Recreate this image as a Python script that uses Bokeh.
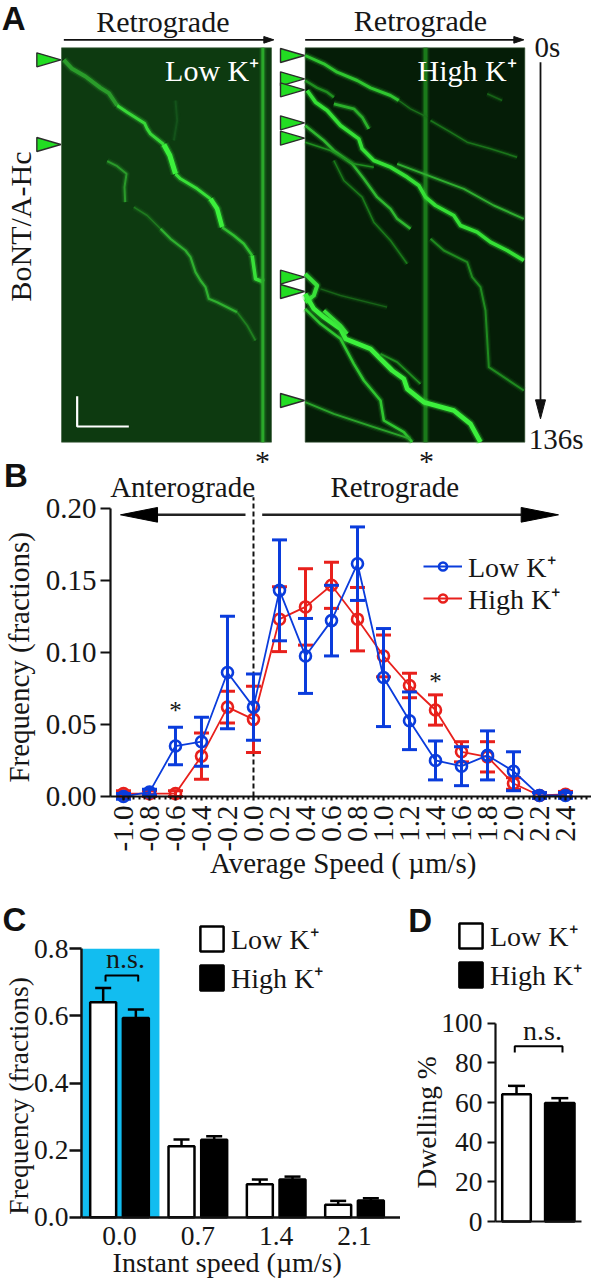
from math import pi
from bokeh.plotting import figure
from bokeh.layouts import column, row
from bokeh.models import (Range1d, LinearAxis, FixedTicker, Label, Legend, LegendItem,
                          NumeralTickFormatter)
from bokeh.embed import file_html
from bokeh.resources import INLINE

SERIF = "Liberation Serif"
INK = "#161616"

# ---------- Panel A data: kymograph traces (position, frame) ----------
low_traces = [
    ([190,215,255,300,325,350], [178,205,228,262,278,315], 4, "#2a9c2a"),
    ([350,380,432,440,450,490], [315,335,368,385,400,432], 3, "#38d838"),
    ([490,508,525], [432,465,520], 5, "#3cf03c"),
    ([525,540,590,630], [520,535,565,595], 3, "#38e038"),
    ([630,650,665], [595,625,680], 4.5, "#3cf03c"),
    ([665,700,730,755], [680,705,730,765], 2.5, "#30c030"),
    ([755,765,790], [765,835,845], 3.5, "#38e038"),
    ([320,350,378,372,374], [482,497,520,560,605], 2, "#2a9a2a"),
    ([400,440,480], [620,645,685], 1.5, "#1f7a1f"),
    ([480,510,555,570,585,600,615,625,650,710], [685,715,750,770,815,840,860,895,905,935], 2.2, "#2fb02f"),
    ([710,740,765], [935,975,1020], 1.8, "#1f7f1f"),
    ([525,530,520], [300,360,420], 2, "#14521a"),
    ([787,787], [142,1325], 3, "#2aa82a"),
]
high_traces = [
    ([405,405], [142,1325], 4, "#1a7a1a"),
    ([44,100,140,200,240,300,325], [165,190,215,240,262,285,300], 3, "#2fc62f"),
    ([325,360,410], [300,325,350], 1.5, "#1a6f1a"),
    ([44,80,110,130], [240,262,275,290], 2.5, "#1f8f1f"),
    ([50,75,110,150,205,215,250,300,350,385,405,435,490,510,560,600,650,700],
     [270,305,330,375,415,445,480,500,530,555,590,615,645,675,695,725,750,780], 3.6, "#35e035"),
    ([130,190,215,235], [310,325,350,385], 2.8, "#2ab02a"),
    ([44,100,130,185,220,260,300,320,360], [375,420,450,490,535,590,625,655,685], 2.5, "#2fb82f"),
    ([44,120,190,250], [425,450,490,500], 1.6, "#1f8f1f"),
    ([320,400,520,610,700], [490,520,565,615,655], 2, "#2fae2f"),
    ([130,160,215,250,300,350], [480,540,590,665,720,790], 1.6, "#1a7a1a"),
    ([420,480,530,600,680], [360,395,425,445,470], 1.6, "#1a741a"),
    ([420,460,530,545,570,585,595,700], [715,750,785,830,860,930,1100,1170], 2, "#1f8a1f"),
    ([44,80,70,44], [820,855,885,905], 4, "#38e038"),
    ([44,70,100,150,165,240,305,340,350,400,490,540,570],
     [880,925,950,985,1015,1045,1110,1135,1165,1205,1230,1270,1325], 4.6, "#3cf03c"),
    ([44,90,150,190,220,270,280,340,365], [925,970,1015,1090,1140,1200,1260,1295,1325], 2.6, "#2fc62f"),
    ([100,150,170], [930,975,1000], 3.5, "#38e038"),
    ([270,320,390], [1060,1085,1150], 1.8, "#1f8f1f"),
    ([44,130,250,360], [1205,1240,1280,1315], 2, "#2aa42a"),
    ([90,150,290], [865,885,920], 1.4, "#176417"),
    ([590,635], [280,300], 1.6, "#176417"),
]
low_marks = [178, 432]
high_marks = [165, 235, 268, 367, 413, 830, 873, 1200]

# ---------- Panel B data ----------
speed = [-1.0,-0.8,-0.6,-0.4,-0.2,0.0,0.2,0.4,0.6,0.8,1.0,1.2,1.4,1.6,1.8,2.0,2.2,2.4]
speed_ticks = speed
speed_dots = [-1.0,-0.96,-0.92,-0.88,-0.84,-0.76,-0.72,-0.68,-0.64,-0.56,-0.52,-0.48,-0.44,-0.36,-0.32,-0.28,-0.24,
              -0.16,-0.12,-0.08,-0.04,0.04,0.08,0.12,0.16,0.24,0.28,0.32,0.36,0.44,0.48,0.52,0.56,0.64,0.68,0.72,0.76,
              0.84,0.88,0.92,0.96,1.04,1.08,1.12,1.16,1.24,1.28,1.32,1.36,1.44,1.48,1.52,1.56,1.64,1.68,1.72,1.76,
              1.84,1.88,1.92,1.96,2.04,2.08,2.12,2.16,2.24,2.28,2.32,2.36,2.44,2.48,2.52,2.56]
low_freq = [0.0,0.003,0.035,0.038,0.086,0.062,0.143,0.0975,0.122,0.1615,0.0825,0.0525,0.025,0.021,0.0285,0.0175,0.0007,0.0007]
low_err  = [0.002,0.002,0.013,0.017,0.039,0.023,0.035,0.026,0.0245,0.0255,0.034,0.020,0.0135,0.0135,0.017,0.0135,0.002,0.002]
high_freq = [0.002,0.002,0.002,0.028,0.062,0.0535,0.123,0.1315,0.1465,0.123,0.0975,0.077,0.060,0.031,0.0275,0.009,0.0007,0.0015]
high_err  = [0.002,0.002,0.002,0.016,0.011,0.023,0.0225,0.0265,0.016,0.022,0.0145,0.0085,0.0105,0.007,0.0105,0.004,0.002,0.002]

# ---------- Panel C data ----------
instant = [0.0, 0.7, 1.4, 2.1]
c_low = [0.641, 0.2117, 0.0984, 0.0368]
c_low_top = [0.683, 0.2315, 0.1123, 0.0487]
c_high = [0.594, 0.2305, 0.1123, 0.0497]
c_high_top = [0.619, 0.2415, 0.121, 0.0566]

# ---------- Panel D data ----------
d_pos = [0, 1]
d_val = [64.2, 59.7]
d_top = [68.4, 62.2]


def txt(p, x, y, s, size, angle=0, align="center", baseline="middle", color=INK, font=SERIF, style="normal"):
    p.add_layout(Label(x=x, y=y, text=s, text_font_size=f"{size}px", angle=angle, text_align=align,
                       text_baseline=baseline, text_color=color, text_font=font, text_font_style=style))


def base_fig(w, h, xr, yr, **kw):
    return figure(width=w, height=h, x_range=Range1d(*xr), y_range=Range1d(*yr), x_axis_type=None, y_axis_type=None,
                  toolbar_location=None, output_backend="svg", min_border=0, outline_line_color=None, **kw)


def style_axis(ax, size, lw=2.2):
    ax.axis_line_width = lw
    ax.axis_line_color = "#111111"
    ax.major_tick_line_color = "#111111"
    ax.major_tick_line_width = lw
    ax.major_tick_in = 0
    ax.minor_tick_in = 0
    ax.minor_tick_out = 0
    ax.major_label_text_font = SERIF
    ax.major_label_text_font_size = f"{size}px"
    ax.major_label_text_color = INK


def legend_item(p, label, rend, x, y, gw, gh, standoff, size):
    p.add_layout(Legend(items=[LegendItem(label=label, renderers=rend)], location=(x, y), padding=0, margin=0,
                        glyph_width=gw, glyph_height=gh, label_standoff=standoff, background_fill_alpha=0,
                        border_line_color=None, label_text_font=SERIF, label_text_font_size=f"{size}px",
                        label_text_color=INK, label_height=20))


def kymo(w, xr, bg, x0, x1, traces):
    p = base_fig(w, 460, xr, (1380, 0))
    p.quad(left=[x0], right=[x1], top=[142], bottom=[1325], fill_color=bg, line_color="#3a5a3a", line_width=0.6)
    for t in traces:
        p.line(t[0], t[1], line_width=t[2] + 5, line_color=t[3], line_alpha=0.12, line_join="round")
        p.line(t[0], t[1], line_width=t[2] + 2.5, line_color=t[3], line_alpha=0.25, line_join="round")
        p.line(t[0], t[1], line_width=t[2], line_color=t[3], line_join="round")
    return p


def tri_marks(p, tips, x_tip):
    xs = [[x_tip, x_tip - 72, x_tip - 72] for _ in tips]
    ys = [[t, t - 21, t + 21] for t in tips]
    p.patches(xs, ys, fill_color="#22dd22", line_color="#2c2c2c", line_width=1.4)


# ---------- Panel A ----------
a1 = kymo(275, (0, 825), "#0d3a10", 183, 813, low_traces)
tri_marks(a1, low_marks, 181)
a1.line([230, 230, 385], [1187, 1278, 1278], line_color="white", line_width=2.2)
a1.line([190, 795], [118, 118], line_color="#111111", line_width=1.6)
a1.patch([820, 790, 790], [118, 108, 128], fill_color="#111111", line_color="#111111")
txt(a1, 4, 55, "A", 33, align="left", font="Liberation Sans", style="bold", color="#111111")
txt(a1, 487, 62, "Retrograde", 30)
txt(a1, 635, 210, "Low K⁺", 30, color="white")
txt(a1, 60, 678, "BoNT/A-Hc", 30, angle=pi / 2)

a2 = kymo(316, (-45, 903), "#051d07", 44, 703, high_traces)
tri_marks(a2, high_marks, 42)
a2.line([44, 675], [118, 118], line_color="#111111", line_width=1.6)
a2.patch([700, 670, 670], [118, 108, 128], fill_color="#111111", line_color="#111111")
a2.line([750, 750], [185, 1210], line_color="#111111", line_width=1.8)
a2.patch([750, 735, 765], [1255, 1198, 1198], fill_color="#111111", line_color="#111111")
txt(a2, 390, 60, "Retrograde", 30)
txt(a2, 530, 210, "High K⁺", 30, color="white")
txt(a2, 732, 138, "0s", 29, align="left")
txt(a2, 715, 1315, "136s", 29, align="left")

# ---------- Panel B ----------
b = base_fig(591, 455, (-1.946, 2.6), (-0.0687, 0.24696), background_fill_alpha=0, border_fill_alpha=0, margin=(-20, 0, 0, 0))
bx = LinearAxis(fixed_location=0.0, bounds=(-1.1, 2.6), ticker=FixedTicker(ticks=speed_ticks, minor_ticks=speed_dots),
                formatter=NumeralTickFormatter(format="0.0"))
style_axis(bx, 29)
bx.major_tick_out = 4
bx.minor_tick_out = 3
bx.minor_tick_line_width = 2
bx.minor_tick_line_color = "#111111"
bx.major_label_orientation = pi / 2
bx.major_label_standoff = 5
b.add_layout(bx, "below")
by = LinearAxis(fixed_location=-1.1, bounds=(0, 0.2), ticker=FixedTicker(ticks=[0, 0.05, 0.1, 0.15, 0.2]),
                formatter=NumeralTickFormatter(format="0.00"))
style_axis(by, 29)
by.major_tick_out = 10
by.major_label_standoff = 4
b.add_layout(by, "left")

b.line([0, 0], [0, 0.2076], line_color="#111111", line_width=2, line_dash="5 3")
b.segment([-0.0615, 0.067], [0.1954, 0.1954], [-0.74, 2.06], [0.1954, 0.1954], line_color="#222222", line_width=2.4)
b.patches([[-1.023, -0.738, -0.738], [2.346, 2.059, 2.059]],
          [[0.1954, 0.2005, 0.1903], [0.1954, 0.2005, 0.1903]], fill_color="#000000", line_color="#000000")


def series(p, y, e, color):
    lo = [a - c for a, c in zip(y, e)]
    hi = [a + c for a, c in zip(y, e)]
    p.segment(speed, lo, speed, hi, line_color=color, line_width=3)
    p.scatter(speed + speed, lo + hi, marker="dash", size=15, line_color=color, line_width=3)
    ln = p.line(speed, y, line_color=color, line_width=1.8)
    sc = p.scatter(speed, y, marker="circle", size=11, fill_color=None, line_color=color, line_width=2.6)
    return [ln, sc]


r_high = series(b, high_freq, high_err, "#e8201c")
r_low = series(b, low_freq, low_err, "#0a3cdc")
legend_item(b, "Low K⁺", r_low, 423, 310, 39, 20, 6, 28)
legend_item(b, "High K⁺", r_high, 423, 278, 39, 20, 6, 28)
txt(b, 0.069, 0.2442, "*", 30, baseline="top")
txt(b, 1.331, 0.2442, "*", 30, baseline="top")
txt(b, -0.545, 0.2150, "Anterograde", 29)
txt(b, 1.087, 0.2150, "Retrograde", 29)
txt(b, -0.6, 0.0597, "*", 25)
txt(b, 1.4, 0.0798, "*", 25)
txt(b, 0.69, -0.046, "Average Speed ( µm/s)", 29)
txt(b, -1.80, 0.0965, "Frequency (fractions)", 29, angle=pi / 2)
txt(b, -1.92, 0.2225, "B", 33, align="left", font="Liberation Sans", style="bold", color="#111111")

# ---------- Panel C ----------
c = base_fig(400, 385, (-1.0635, 2.511), (-0.1886, 0.9588))
c.quad(left=[-0.333], right=[0.357], bottom=[0], top=[0.8], fill_color="#12bdf0", line_color=None)
offs = 0.146
x_low = [v - offs for v in instant]
x_high = [v + offs for v in instant]
for xv, yv, top in ((x_low, c_low, c_low_top), (x_high, c_high, c_high_top)):
    c.segment(xv, yv, xv, top, line_color="black", line_width=2.5)
    c.scatter(xv, top, marker="dash", size=16, line_color="black", line_width=2.5)
r_cl = c.vbar(x_low, 0.232, c_low, 0, fill_color="white", line_color="black", line_width=2.5)
r_ch = c.vbar(x_high, 0.232, c_high, 0, fill_color="black", line_color="black", line_width=2.5)
cx = LinearAxis(fixed_location=0.0, bounds=(-0.34, 2.511), ticker=FixedTicker(ticks=instant),
                formatter=NumeralTickFormatter(format="0.0"))
style_axis(cx, 27.5, 2.5)
cx.major_tick_out = 0
cx.major_label_standoff = 10
c.add_layout(cx, "below")
cy = LinearAxis(fixed_location=-0.34, bounds=(0, 0.8), ticker=FixedTicker(ticks=[0, 0.2, 0.4, 0.6, 0.8]),
                formatter=NumeralTickFormatter(format="0.0"))
style_axis(cy, 27.5, 2.5)
cy.major_tick_out = 12
cy.major_label_standoff = 1
c.add_layout(cy, "left")
c.line([-0.125, -0.125, 0.167, 0.167], [0.7025, 0.7204, 0.7204, 0.7025], line_color="black", line_width=2)
txt(c, 0.054, 0.77, "n.s.", 28)
legend_item(c, "Low K⁺", [r_cl], 197, 323, 29, 31, 5, 28)
legend_item(c, "High K⁺", [r_ch], 197, 284, 29, 31, 5, 28)
txt(c, 0.9625, -0.136, "Instant speed (µm/s)", 28)
txt(c, -0.905, 0.3615, "Frequency (fractions)", 27.5, angle=pi / 2)
txt(c, -1.045, 0.888, "C", 33, align="left", font="Liberation Sans", style="bold", color="#111111")

# ---------- Panel D ----------
d = base_fig(191, 385, (-2.679, 1.732), (-29.75, 164.4))
for xv, top in zip(d_pos, d_top):
    d.segment([xv], [0], [xv], [top], line_color="black", line_width=2.5)
    d.scatter([xv], [top], marker="dash", size=17, line_color="black", line_width=2.5)
r_dl = d.vbar(x=[d_pos[0]], width=0.66, top=[d_val[0]], bottom=0, fill_color="white", line_color="black", line_width=2.5)
r_dh = d.vbar(x=[d_pos[1]], width=0.68, top=[d_val[1]], bottom=0, fill_color="black", line_color="black", line_width=2.5)
dx = LinearAxis(fixed_location=0.0, bounds=(-0.485, 1.501), ticker=FixedTicker(ticks=[]))
style_axis(dx, 27, 2.2)
d.add_layout(dx, "below")
dy = LinearAxis(fixed_location=-0.485, bounds=(0, 100), ticker=FixedTicker(ticks=[0, 20, 40, 60, 80, 100]))
style_axis(dy, 27.5, 2.2)
dy.major_tick_out = 8
dy.major_label_standoff = 5
d.add_layout(dy, "left")
d.line([-0.04, -0.04, 1.062, 1.062], [85.2, 88.4, 88.4, 85.2], line_color="black", line_width=2)
txt(d, 0.6, 96.5, "n.s.", 28)
legend_item(d, "Low K⁺", [r_dl], 56, 326, 29, 31, 5, 28)
legend_item(d, "High K⁺", [r_dh], 56, 287, 29, 31, 5, 28)
txt(d, -2.07, 50, "Dwelling %", 27.5, angle=pi / 2)
txt(d, -2.5, 151.8, "D", 33, align="left", font="Liberation Sans", style="bold", color="#111111")

page = column(row(a1, a2, spacing=0), b, row(c, d, spacing=0), spacing=0, margin=0)
open("out.html", "w").write(file_html(page, INLINE))
